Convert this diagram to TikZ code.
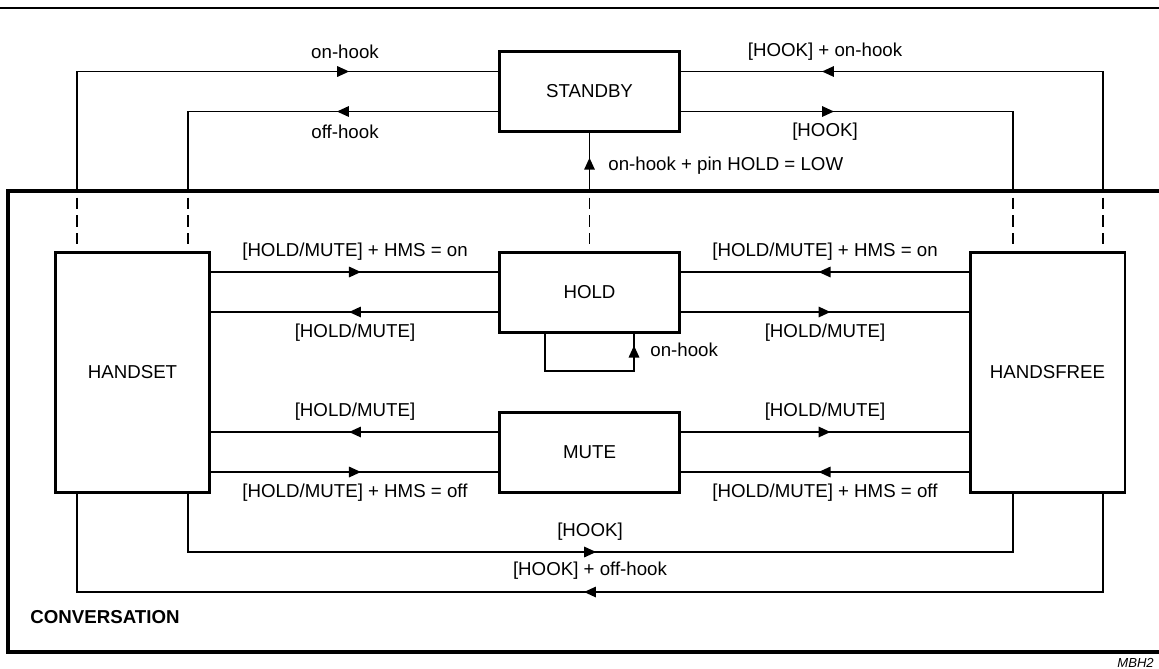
\documentclass[tikz,border=0pt]{standalone}
\usepackage{fontspec}
\setmainfont{Liberation Sans}
\usetikzlibrary{arrows.meta,decorations.markings}
\begin{document}
\begin{tikzpicture}[x=0.535pt,y=-0.535pt,
  font=\fontsize{10}{12}\selectfont,
  box/.style={draw,line width=1.6pt,minimum width=95.8pt,minimum height=42.8pt,inner sep=0pt},
  tall/.style={draw,line width=1.6pt,minimum width=82.9pt,minimum height=128.4pt,inner sep=0pt},
  conn/.style={line width=0.9pt},
  dashline/.style={line width=0.9pt,dash pattern=on 6pt off 3.5pt,dash phase=-3.5pt},
  arr/.style={postaction={decorate},decoration={markings,mark=at position #1 with {\arrow[xshift=3.2pt]{Triangle[length=6.4pt,width=5.6pt]}}}},
  lbl/.style={inner sep=0pt}
]
\useasboundingbox (0,0) rectangle (1159,668);
% top rule and conversation frame
\draw[line width=1.3pt] (0,8) -- (1159,8);
\coordinate (ctl) at (8,191);
\coordinate (cbl) at (8,652);
\draw[line width=2pt] (1159,191) -- (ctl) -- (cbl) -- (1159,652);
\node[anchor=west,font=\fontsize{10}{12}\selectfont\bfseries,lbl] (conv) at (30,617) {CONVERSATION};
\node[anchor=base west,font=\fontsize{7}{8}\selectfont\itshape,lbl] (code) at (1117,667) {MBH2};

% states
\node[box] (standby) at (589.5,91.5) {STANDBY};
\node[box] (hold) at (589.5,292) {HOLD};
\node[box] (mute) at (589.5,452) {MUTE};
\node[tall] (handset) at (132.5,372) {HANDSET};
\node[tall] (handsfree) at (1047.5,372) {HANDSFREE};

% crossing points on the conversation frame
\coordinate (p1) at (77,191);
\coordinate (p2) at (188,191);
\coordinate (p3) at (589.5,191);
\coordinate (p4) at (1013,191);
\coordinate (p5) at (1103,191);
\draw[dashline] (p1) -- (p1 |- handset.north);
\draw[dashline] (p2) -- (p2 |- handset.north);
\draw[dashline] (p3) -- (hold.north);
\draw[dashline] (p4) -- (p4 |- handsfree.north);
\draw[dashline] (p5) -- (p5 |- handsfree.north);

% standby connections
\coordinate (su) at ([yshift=10.7pt]standby.west);
\coordinate (sl) at ([yshift=-10.7pt]standby.west);
\coordinate (sur) at ([yshift=10.7pt]standby.east);
\coordinate (slr) at ([yshift=-10.7pt]standby.east);
\draw[conn,arr=0.713] (p1) |- (su);
\draw[conn,arr=0.399] (sl) -| (p2);
\draw[conn,arr=0.728] (p5) |- (sur);
\draw[conn,arr=0.358] (slr) -| (p4);
\draw[conn,arr=0.47] (p3) -- (standby.south);
\node[lbl] at (345,52) {on-hook};
\node[lbl] at (345,132) {off-hook};
\node[lbl] at (825,52) {[HOOK] + on-hook};
\node[lbl] at (825,132) {[HOOK]};
\node[lbl,anchor=west] at (608,166) {on-hook + pin HOLD = LOW};

% hold connections
\coordinate (hu) at ([yshift=10.7pt]hold.west);
\coordinate (hl) at ([yshift=-10.7pt]hold.west);
\coordinate (hur) at ([yshift=10.7pt]hold.east);
\coordinate (hlr) at ([yshift=-10.7pt]hold.east);
\draw[conn,arr=0.5] (hu -| handset.east) -- (hu);
\draw[conn,arr=0.5] (hl) -- (hl -| handset.east);
\draw[conn,arr=0.5] (hur -| handsfree.west) -- (hur);
\draw[conn,arr=0.5] (hlr) -- (hlr -| handsfree.west);
\node[lbl] at (355,252) {[HOLD/MUTE] + HMS = on};
\node[lbl] at (355,333) {[HOLD/MUTE]};
\node[lbl] at (825,252) {[HOLD/MUTE] + HMS = on};
\node[lbl] at (825,333) {[HOLD/MUTE]};

% hold self loop
\coordinate (l1) at (545,371);
\coordinate (l2) at (634,371);
\draw[conn,arr=0.89] (hold.south -| l1) -- (l1) -- (l2) -- (hold.south -| l2);
\node[lbl,anchor=west] at (650,350) {on-hook};

% mute connections
\coordinate (mu) at ([yshift=10.7pt]mute.west);
\coordinate (ml) at ([yshift=-10.7pt]mute.west);
\coordinate (mur) at ([yshift=10.7pt]mute.east);
\coordinate (mlr) at ([yshift=-10.7pt]mute.east);
\draw[conn,arr=0.5] (mu) -- (mu -| handset.east);
\draw[conn,arr=0.5] (ml -| handset.east) -- (ml);
\draw[conn,arr=0.5] (mur) -- (mur -| handsfree.west);
\draw[conn,arr=0.5] (mlr -| handsfree.west) -- (mlr);
\node[lbl] at (355,412) {[HOLD/MUTE]};
\node[lbl] at (355,493) {[HOLD/MUTE] + HMS = off};
\node[lbl] at (825,412) {[HOLD/MUTE]};
\node[lbl] at (825,493) {[HOLD/MUTE] + HMS = off};

% handset <-> handsfree
\coordinate (b1) at (188,552);
\coordinate (b2) at (1013,552);
\coordinate (b3) at (1103,592);
\coordinate (b4) at (77,592);
\draw[conn,arr=0.489] (handset.south -| b1) -- (b1) -- (b2) -- (handsfree.south -| b2);
\draw[conn,arr=0.5] (handsfree.south -| b3) -- (b3) -- (b4) -- (handset.south -| b4);
\node[lbl] at (590,532) {[HOOK]};
\node[lbl] at (590,571) {[HOOK] + off-hook};
\end{tikzpicture}
\end{document}
